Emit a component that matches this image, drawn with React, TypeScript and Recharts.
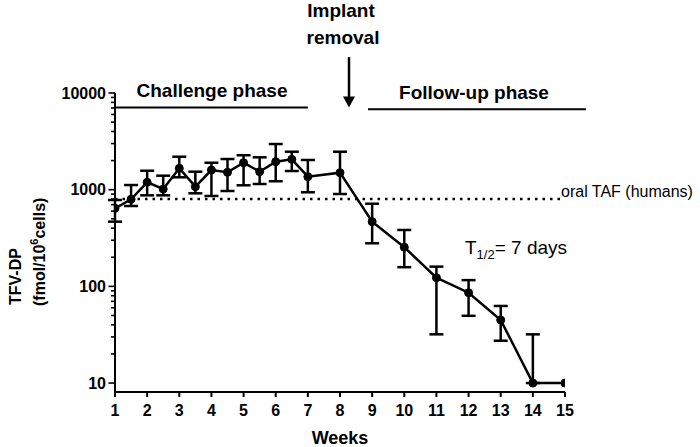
import React from 'react';
import { LineChart, Line, XAxis, YAxis, ErrorBar, ReferenceLine, Customized } from 'recharts';

// ---- data ----
const weeks = [1, 1.5, 2, 2.5, 3, 3.5, 4, 4.5, 5, 5.5, 6, 6.5, 7, 8, 9, 10, 11, 12, 13, 14, 15];
const tfvDp = [641, 795, 1191, 1016, 1664, 1074, 1596, 1513, 1900, 1535, 1945, 2060, 1362, 1500, 467, 254, 123, 86, 44.9, 10, 10];
const upperBound = [782, 1117, 1571, 1396, 2193, 1535, 1900, 2075, 2270, 2162, 2965, 2470, 2028, 2470, 716, 383, 160, 116, 62.7, 31.9, null];
const lowerBound = [467, 678, 874, 874, 1343, 917, 861, 969, 1110, 1145, 1222, 1560, 940, 902, 279, 158, 31.9, 49.6, 27.4, 10, null];

const xTicks = [1, 2, 3, 4, 5, 6, 7, 8, 9, 10, 11, 12, 13, 14, 15];
const yMajorTicks = [10, 100, 1000, 10000];
const yMinorTicks = [
  20, 30, 40, 50, 60, 70, 80, 90,
  200, 300, 400, 500, 600, 700, 800, 900,
  2000, 3000, 4000, 5000, 6000, 7000, 8000, 9000,
];
const yDomain = [8.08, 10000];

const oralTafLevel = 800;
const oralTafRange = [1, 14.95];
const challengePhase = [1, 7];
const challengeLevel = 7100;
const followUpPhase = [8.87, 15.65];
const followUpLevel = 6800;
const implantRemovalWeek = 8.28;
const arrowTop = 23500;

const data = weeks.map((w, i) => ({
  week: w,
  value: tfvDp[i],
  err:
    upperBound[i] == null || lowerBound[i] == null
      ? null
      : [tfvDp[i] - (lowerBound[i] as number), (upperBound[i] as number) - tfvDp[i]],
}));

const allYTicks = [...yMajorTicks, ...yMinorTicks].sort((a, b) => a - b);

const FONT = '"Liberation Sans", Arial, sans-serif';

const YTick = (props: any) => {
  const { x, y, payload } = props;
  const major = yMajorTicks.includes(payload.value);
  return (
    <g>
      <line x1={x - (major ? 6.5 : 4)} x2={x} y1={y} y2={y} stroke="#000" strokeWidth={1.6} />
      {major && (
        <text x={x - 9} y={y} dy="0.36em" textAnchor="end" fontFamily={FONT} fontWeight="bold" fontSize={16} fill="#000">
          {payload.value}
        </text>
      )}
    </g>
  );
};

const Arrow = (props: any) => {
  const { x1, y1, x2, y2 } = props;
  return (
    <g>
      <line x1={x1} y1={y1} x2={x2} y2={y2 - 9} stroke="#000" strokeWidth={2.5} />
      <polygon points={`${x2 - 6},${y2 - 11} ${x2 + 6},${y2 - 11} ${x2},${y2}`} fill="#000" />
    </g>
  );
};

const Annotations = () => (
  <g fontFamily={FONT} fill="#000">
    <text x={341} y={17} textAnchor="middle" fontWeight="bold" fontSize={19}>Implant</text>
    <text x={343} y={44} textAnchor="middle" fontWeight="bold" fontSize={19}>removal</text>
    <text x={212} y={97} textAnchor="middle" fontWeight="bold" fontSize={19}>Challenge phase</text>
    <text x={474} y={99} textAnchor="middle" fontWeight="bold" fontSize={19}>Follow-up phase</text>
    <text x={561} y={197} fontSize={16}>oral TAF (humans)</text>
    <text x={465} y={254} fontSize={19}>
      T<tspan fontSize={13} dy={5}>1/2</tspan><tspan dy={-5}>= 7 days</tspan>
    </text>
    <text x={340} y={444} textAnchor="middle" fontWeight="bold" fontSize={18}>Weeks</text>
    <text transform="rotate(-90, 21, 305)" x={21} y={305} fontWeight="bold" fontSize={16}>TFV-DP</text>
    <text transform="rotate(-90, 45, 306)" x={45} y={306} fontWeight="bold" fontSize={16}>
      (fmol/10<tspan fontSize={11} dy={-7}>6</tspan><tspan dy={7}>cells)</tspan>
    </text>
  </g>
);

export default function App() {
  return (
    <div style={{ position: 'absolute', left: 0, top: 0, width: 700, height: 447, background: '#fff' }}>
      <LineChart
        width={700}
        height={447}
        data={data}
        margin={{ top: 93, right: 135, bottom: 25, left: 55 }}
      >
        <XAxis
          dataKey="week"
          type="number"
          domain={[1, 15]}
          allowDataOverflow
          ticks={xTicks}
          interval={0}
          height={30}
          tickSize={5}
          tickMargin={8}
          axisLine={{ stroke: '#000', strokeWidth: 2 }}
          tickLine={{ stroke: '#000', strokeWidth: 2 }}
          tick={{ fill: '#000', fontSize: 16, fontWeight: 'bold', fontFamily: FONT }}
        />
        <YAxis
          scale="log"
          domain={yDomain}
          allowDataOverflow
          ticks={allYTicks}
          interval={0}
          width={60}
          tickSize={0}
          tickMargin={0}
          tickLine={false}
          axisLine={{ stroke: '#000', strokeWidth: 2 }}
          tick={<YTick />}
        />
        <ReferenceLine
          stroke="#000"
          strokeWidth={2.5}
          strokeDasharray="2.5 5"
          segment={[{ x: oralTafRange[0], y: oralTafLevel }, { x: oralTafRange[1], y: oralTafLevel }]}
        />
        <ReferenceLine
          segment={[{ x: challengePhase[0], y: challengeLevel }, { x: challengePhase[1], y: challengeLevel }]}
          stroke="#000"
          strokeWidth={2}
          ifOverflow="visible"
        />
        <ReferenceLine
          segment={[{ x: followUpPhase[0], y: followUpLevel }, { x: followUpPhase[1], y: followUpLevel }]}
          stroke="#000"
          strokeWidth={2}
          ifOverflow="visible"
        />
        <ReferenceLine
          segment={[{ x: implantRemovalWeek, y: arrowTop }, { x: implantRemovalWeek, y: challengeLevel }]}
          ifOverflow="visible"
          shape={<Arrow />}
        />
        <Line
          type="linear"
          dataKey="value"
          stroke="#000"
          strokeWidth={2.5}
          dot={{ r: 4, fill: '#000', stroke: '#000', strokeWidth: 1 }}
          isAnimationActive={false}
        >
          <ErrorBar dataKey="err" width={7} stroke="#000" strokeWidth={2.5} direction="y" />
        </Line>
        <Customized component={Annotations} />
      </LineChart>
    </div>
  );
}
